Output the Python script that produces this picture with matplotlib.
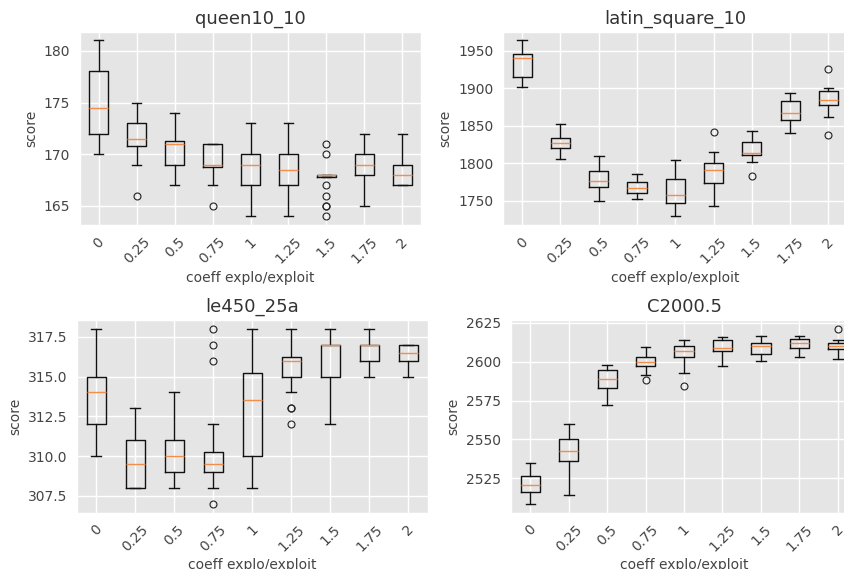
import matplotlib
matplotlib.use("Agg")
import matplotlib.pyplot as plt

# coefficients explo/exploit
coeffs = ["0", "0.25", "0.5", "0.75", "1", "1.25", "1.5", "1.75", "2"]

# box stats: (whislo, q1, med, q3, whishi, fliers)
queen10_10 = [
    (170, 172, 174.5, 178, 181, []),
    (169, 170.75, 171.5, 173, 175, [166]),
    (167, 169, 171, 171.25, 174, []),
    (167, 168.75, 169, 171, 171, [165]),
    (164, 167, 169, 170, 173, []),
    (164, 167, 168.5, 170, 173, []),
    (167.75, 167.75, 168, 168, 168, [171, 170, 167, 166, 165, 165, 164]),
    (165, 168, 169, 170, 172, []),
    (167, 167, 168, 169, 172, []),
]
latin_square_10 = [
    (1901.5, 1915.6, 1939.9, 1945.2, 1963.7, []),
    (1805.1, 1820.0, 1827.1, 1833.7, 1851.8, []),
    (1749.1, 1768.9, 1776.4, 1790.1, 1809.9, []),
    (1751.8, 1759.7, 1767.6, 1774.7, 1785.7, []),
    (1729.3, 1746.9, 1757.0, 1779.1, 1803.7, []),
    (1743.0, 1774.2, 1791.4, 1800.2, 1814.8, [1842.1]),
    (1801.1, 1811.2, 1813.4, 1828.4, 1843.4, [1782.6]),
    (1839.9, 1857.0, 1866.7, 1883.0, 1894.1, []),
    (1861.0, 1877.3, 1884.4, 1896.7, 1899.8, [1926.2, 1837.2]),
]
le450_25a = [
    (310, 312, 314, 315, 318, []),
    (308, 308, 309.5, 311, 313, []),
    (308, 309, 310, 311, 314, []),
    (308, 309, 309.5, 310.25, 312, [318, 317, 316, 307]),
    (308, 310, 313.5, 315.25, 318, []),
    (314, 315, 316, 316.25, 318, [313, 313, 312]),
    (312, 315, 317, 317, 318, []),
    (315, 316, 317, 317, 318, []),
    (315, 316, 316.5, 317, 317, []),
]
c2000_5 = [
    (2508.4, 2516.1, 2520.3, 2526.1, 2535.0, []),
    (2514.4, 2535.9, 2542.4, 2550.5, 2560.1, []),
    (2572.2, 2582.9, 2588.8, 2594.6, 2597.6, []),
    (2591.4, 2597.1, 2599.5, 2603.1, 2609.7, [2588.2]),
    (2592.9, 2602.7, 2606.7, 2610.1, 2613.9, [2584.1]),
    (2597.1, 2606.7, 2609.0, 2613.7, 2616.1, []),
    (2600.7, 2604.8, 2609.9, 2612.2, 2616.7, []),
    (2603.1, 2609.0, 2612.0, 2614.4, 2616.7, []),
    (2602.0, 2608.0, 2609.9, 2611.8, 2613.7, [2621.2]),
]

plt.style.use("ggplot")

W, H = 844, 569
fig = plt.figure(figsize=(W / 100, H / 100), dpi=100)


def px_axes(left, right, top, bottom):
    return fig.add_axes([left / W, 1 - bottom / H, (right - left) / W, (bottom - top) / H])


# the reference is cropped on the right, so the right column runs past the edge
panels = [
    ("queen10_10", queen10_10, (79.7, 421.3, 31.7, 225)),
    ("latin_square_10", latin_square_10, (503, 847.6, 31.7, 225)),
    ("le450_25a", le450_25a, (76.8, 427.8, 320, 512.7)),
    ("C2000.5", c2000_5, (511.1, 857, 320, 512.7)),
]

for name, rows, pos in panels:
    ax = px_axes(*pos)
    stats = []
    for lab, (lo, q1, med, q3, hi, fl) in zip(coeffs, rows):
        stats.append(dict(label=lab, whislo=lo, q1=q1, med=med, q3=q3, whishi=hi, fliers=fl))
    ax.bxp(stats,
           boxprops=dict(color="#111111", linewidth=1),
           whiskerprops=dict(color="#111111", linewidth=1),
           capprops=dict(color="#111111", linewidth=1),
           medianprops=dict(color="#f28e4c", linewidth=1),
           flierprops=dict(marker="o", markerfacecolor="none", markeredgecolor="#222222",
                           markeredgewidth=0.8, markersize=5, linewidth=0))
    ax.set_title(name, fontsize=13, color="#333333")
    ax.set_xlabel("coeff explo/exploit", fontsize=10, color="#444444", labelpad=3)
    ax.set_ylabel("score", fontsize=10, color="#444444")
    ax.tick_params(axis="both", length=0, labelsize=10, labelcolor="#444444", pad=7)
    plt.setp(ax.get_xticklabels(), rotation=45)
    ax.grid(True, color="white", linewidth=1)
    ax.set_facecolor("#E5E5E5")

fig.savefig("out.png", dpi=100)
